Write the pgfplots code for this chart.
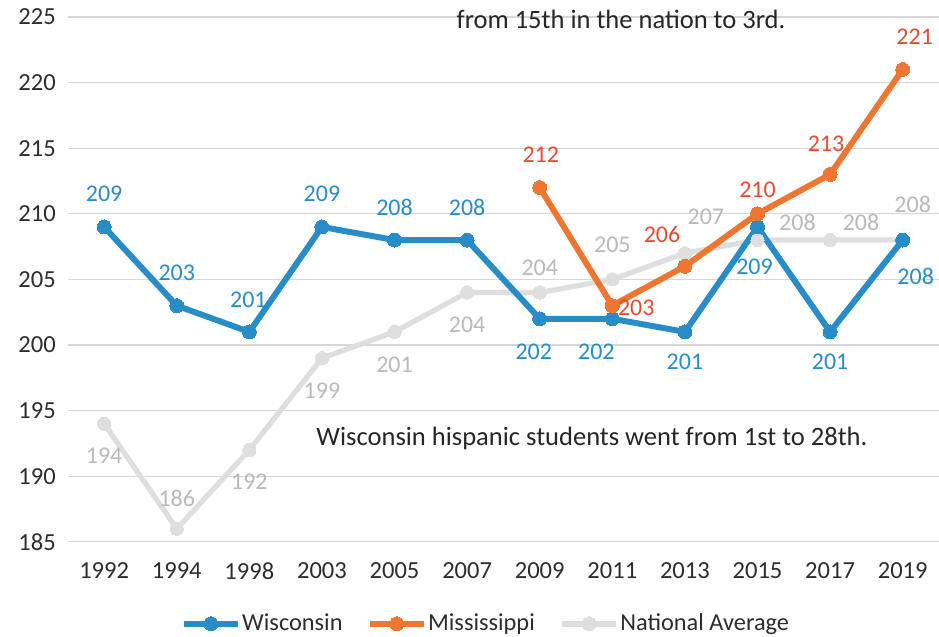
\documentclass[border=0pt]{standalone}
\usepackage{pgfplots}
\pgfplotsset{compat=1.18}
\usepackage{fontspec}
\setmainfont{Carlito}
\definecolor{wiblue}{RGB}{40,140,200}
\definecolor{msorange}{RGB}{238,118,48}
\definecolor{mslab}{RGB}{230,75,50}
\definecolor{natgray}{RGB}{222,222,222}
\definecolor{natlab}{RGB}{185,185,185}
\definecolor{gridc}{RGB}{215,215,215}
\definecolor{tickc}{RGB}{45,45,45}
\newcommand{\lab}[6]{\node[font=\fontsize{12}{14}\selectfont,text=#6,inner sep=0pt] at ([shift={({#3*0.5pt},{#4*0.5pt})}]axis cs:#1,#2) {#5};}
\begin{document}
\begin{tikzpicture}
\useasboundingbox (-34pt,-47.5pt) rectangle (436.5pt,271.5pt);
\begin{axis}[
  scale only axis, width=436.5pt, height=263pt,
  at={(0,0)}, anchor=south west,
  xmin=-0.5, xmax=11.5, ymin=185, ymax=225,
  xtick={0,...,11},
  xticklabels={1992,1994,1998,2003,2005,2007,2009,2011,2013,2015,2017,2019},
  ytick={185,190,...,225},
  axis line style={draw=none},
  major tick length=0pt,
  ymajorgrids, grid style={gridc, line width=0.6pt},
  tick label style={font=\fontsize{12.3}{14}\selectfont, text=tickc},
  /pgf/number format/assume math mode=true,
  yticklabel style={xshift=-2.5pt},
  xticklabel style={yshift=-7pt},
  legend columns=3,
  legend style={draw=none, fill=none, at={(0.481,-0.156)}, anchor=center,
    font=\fontsize{12.2}{14}\selectfont, text=tickc,
    /tikz/every even column/.append style={column sep=10pt},
    /tikz/every odd column/.append style={column sep=-1.5pt}},
  legend image code/.code={\draw[mark repeat=2,mark phase=2,#1] plot coordinates {(0cm,0cm) (0.48cm,0cm) (0.96cm,0cm)};},
  clip=false,
]
\addlegendimage{wiblue, line width=3pt, mark=*, mark size=3.5pt, mark options={fill=wiblue, draw=wiblue, line width=0pt}}
\addlegendentry{Wisconsin}
\addlegendimage{msorange, line width=3pt, mark=*, mark size=3.5pt, mark options={fill=msorange, draw=msorange, line width=0pt}}
\addlegendentry{Mississippi}
\addlegendimage{natgray, line width=3pt, mark=*, mark size=3.5pt, mark options={fill=natgray, draw=natgray, line width=0pt}}
\addlegendentry{National Average}

\addplot[natgray, line width=2.6pt, mark=*, mark size=3.3pt, mark options={fill=natgray, draw=natgray, line width=0pt}, forget plot] coordinates {
(0,194) (1,186) (2,192) (3,199) (4,201) (5,204) (6,204) (7,205) (8,207) (9,208) (10,208) (11,208)};
\addplot[wiblue, line width=3pt, mark=*, mark size=3.5pt, mark options={fill=wiblue, draw=wiblue, line width=0pt}, forget plot] coordinates {
(0,209) (1,203) (2,201) (3,209) (4,208) (5,208) (6,202) (7,202) (8,201) (9,209) (10,201) (11,208)};
\addplot[msorange, line width=3pt, mark=*, mark size=3.5pt, mark options={fill=msorange, draw=msorange, line width=0pt}, forget plot] coordinates {
(6,212) (7,203) (8,206) (9,210) (10,213) (11,221)};

% National labels
\lab{0}{194}{0}{-32}{194}{natlab}
\lab{1}{186}{0}{30}{186}{natlab}
\lab{2}{192}{0}{-32}{192}{natlab}
\lab{3}{199}{0}{-33}{199}{natlab}
\lab{4}{201}{0}{-33}{201}{natlab}
\lab{5}{204}{0}{-32}{204}{natlab}
\lab{6}{204}{0}{25}{204}{natlab}
\lab{7}{205}{0}{35}{205}{natlab}
\lab{8}{207}{21}{36}{207}{natlab}
\lab{9}{208}{40}{18}{208}{natlab}
\lab{10}{208}{31}{18}{208}{natlab}
\lab{11}{208}{10}{36}{208}{natlab}
% Wisconsin labels
\lab{0}{209}{0}{33}{209}{wiblue}
\lab{1}{203}{0}{33}{203}{wiblue}
\lab{2}{201}{-1}{32}{201}{wiblue}
\lab{3}{209}{0}{33}{209}{wiblue}
\lab{4}{208}{0}{33}{208}{wiblue}
\lab{5}{208}{0}{33}{208}{wiblue}
\lab{6}{202}{-6}{-33}{202}{wiblue}
\lab{7}{202}{-16}{-33}{202}{wiblue}
\lab{8}{201}{0}{-30}{201}{wiblue}
\lab{9}{209}{-3}{-40}{209}{wiblue}
\lab{10}{201}{0}{-30}{201}{wiblue}
\lab{11}{208}{13}{-36}{208}{wiblue}
% Mississippi labels
\lab{6}{212}{1}{33}{212}{mslab}
\lab{7}{203}{24}{-2}{203}{mslab}
\lab{8}{206}{-23}{32}{206}{mslab}
\lab{9}{210}{0}{24}{210}{mslab}
\lab{10}{213}{-4}{31}{213}{mslab}
\lab{11}{221}{12}{33}{221}{mslab}

\node[font=\fontsize{13.3}{16}\selectfont, text=black!85] at (axis cs:7.12,224.85) {from 15th in the nation to 3rd.};
\node[font=\fontsize{13.3}{16}\selectfont, text=black!85] at (axis cs:6.72,192.9) {Wisconsin hispanic students went from 1st to 28th.};
\end{axis}
\end{tikzpicture}
\end{document}
